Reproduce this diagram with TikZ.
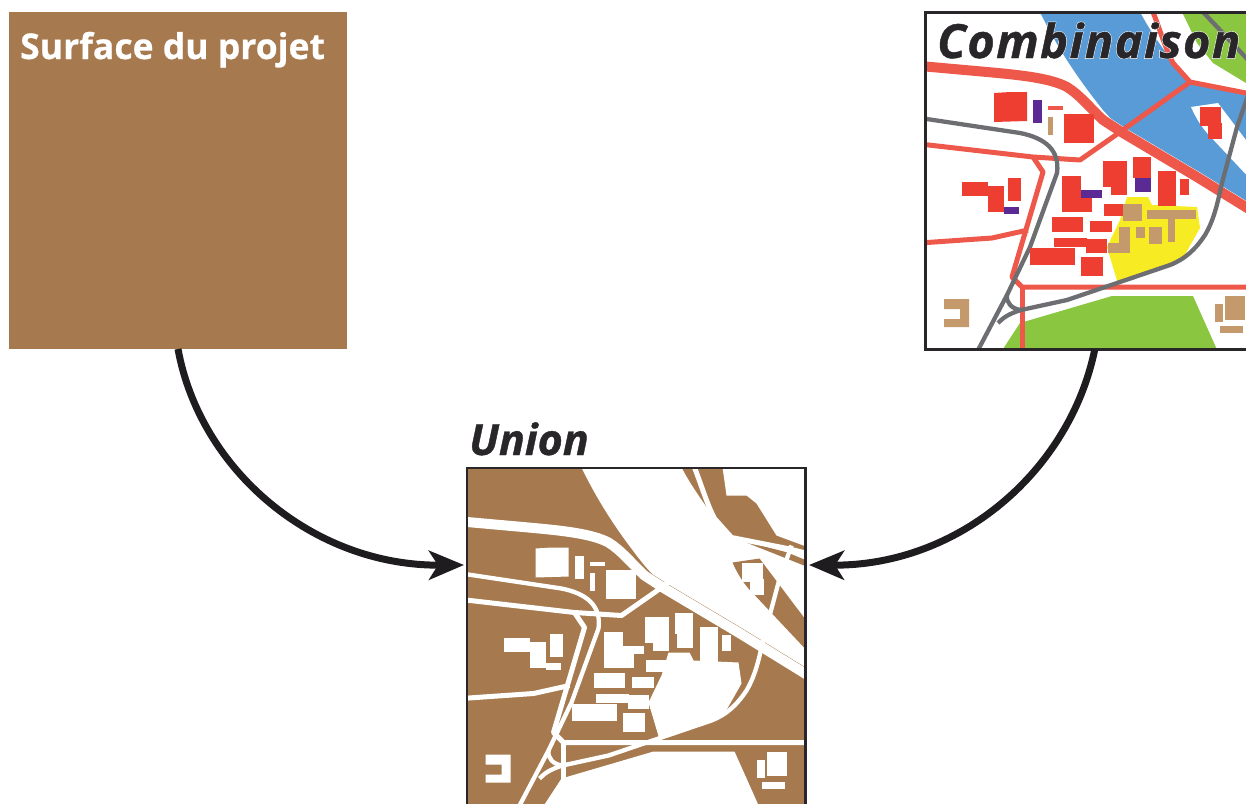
\documentclass[tikz,border=0pt]{standalone}
\usepackage{fontspec}
\setmainfont{Open Sans}
\usetikzlibrary{arrows.meta}
\definecolor{soilbrown}{RGB}{166,122,78}
\definecolor{framedark}{RGB}{40,38,40}
\definecolor{arrowblack}{RGB}{30,28,30}
\colorlet{mapbg}{white}
\newcommand{\halotext}[1]{%
  \leavevmode\rlap{\addfontfeature{FakeBold=3.2}\color{white}#1}%
  {\addfontfeature{FakeBold=0.9}\color{framedark}#1}}
\newcommand{\bldg}[5]{\fill[#1] (#2,#3) rectangle (#4,#5);}
% the map, in the pixel frame of the upper right panel; #1 = what follows the river
\newcommand{\citymap}[1]{%
  \fill[cwater] (1040,12) .. controls (1056,45) and (1075,75) .. (1103,110) -- (1123,132) -- (1197,177) -- (1270,222)
     -- (1270,97) -- (1246,93) -- (1193,82) -- (1183,77) .. controls (1170,58) and (1152,35) .. (1140,12) -- cycle;
  \fill[mapbg] (1191,107) -- (1218,103) -- (1270,172) -- (1270,200) -- (1207,133) .. controls (1200,125) and (1195,116) .. (1191,107) -- cycle;
  #1
  \fill[cgreen] (1112,296) -- (1193,296) -- (1218,352) -- (1001,352) -- (1020,323) -- cycle;
  \fill[cyellow] (1127,197) -- (1148,197) -- (1152,205) -- (1197,207) -- (1200,228) -- (1183,258) -- (1118,284) -- (1107,247) -- (1120,220) -- cycle;
  % red roads
  \draw[mapbg,line width=10.8pt] (1103,120) -- (1123,133) -- (1197,177) -- (1270,222);
  \draw[roadmain] (920,66) -- (987,72) .. controls (1020,75) and (1050,78) .. (1067,87) .. controls (1080,95) and (1090,108) .. (1103,120) -- (1123,133) -- (1197,177) -- (1270,222);
  \draw[roadsec] (1153,12) .. controls (1160,30) and (1166,50) .. (1173,63) -- (1190,82) -- (1246,93) -- (1270,99);
  \draw[roadsec] (1190,82) -- (1113,137) -- (1080,160) -- (1033,157) -- (920,144);
  \draw[roadsec] (1033,157) -- (1043,172) -- (1012,277) -- (1022,287) -- (1270,287);
  \draw[roadsec] (1022,287) -- (1022,352);
  \draw[roadsec] (1028,230) -- (992,238) -- (920,243);
  % grey roads
  \draw[roadgrey] (920,118) -- (1020,133) .. controls (1045,138) and (1060,150) .. (1057,173) -- (1030,247) -- (1007,295) -- (977,352);
  \draw[roadgrey] (1007,295) .. controls (1006,303) and (1012,309) .. (1021,310);
  \draw[roadgrey] (998,323) .. controls (1003,318) and (1008,314) .. (1021,310) -- (1067,300) -- (1117,283) -- (1170,265) .. controls (1185,259) and (1195,250) .. (1205,235) .. controls (1215,218) and (1218,200) .. (1222,183) -- (1237,127) -- (1250,90);
  \draw[roadgrey] (1203,12) -- (1250,62);
  % buildings, top left group
  \fill[cbuild] (994,93) -- (1010,92) -- (1027,92) -- (1027,121) -- (994,122) -- cycle;
  \bldg{cpurple}{1033}{100}{1042}{123}
  \bldg{croad}{1048}{106}{1063}{110}
  \bldg{ctan}{1048}{117}{1053}{135}
  \bldg{cbuild}{1064}{114}{1094}{143}
  % island
  \bldg{cbuild}{1200}{107}{1221}{126}
  \bldg{cbuild}{1208}{123}{1222}{139}
  % left group
  \bldg{cbuild}{962}{182}{988}{196}
  \bldg{cbuild}{988}{186}{1004}{212}
  \bldg{cbuild}{1008}{178}{1021}{201}
  \bldg{cpurple}{1004}{207}{1019}{214}
  % central group
  \bldg{cbuild}{1103}{161}{1127}{187}
  \bldg{cbuild}{1111}{187}{1127}{195}
  \bldg{cbuild}{1133}{157}{1151}{178}
  \bldg{cbuild}{1158}{171}{1176}{206}
  \bldg{cbuild}{1180}{179}{1189}{195}
  \bldg{cbuild}{1062}{176}{1081}{212}
  \bldg{cbuild}{1081}{198}{1092}{212}
  \bldg{cbuild}{1104}{204}{1125}{216}
  \bldg{cbuild}{1052}{217}{1083}{232}
  \bldg{cbuild}{1090}{221}{1112}{232}
  \bldg{cbuild}{1054}{238}{1087}{247}
  \bldg{cbuild}{1086}{239}{1107}{253}
  \bldg{cbuild}{1030}{248}{1075}{265}
  \bldg{cbuild}{1081}{257}{1103}{276}
  \bldg{cpurple}{1081}{190}{1102}{198}
  \bldg{cpurple}{1135}{178}{1151}{192}
  \bldg{ctan}{1123}{204}{1142}{221}
  \bldg{ctan}{1119}{227}{1130}{252}
  \bldg{ctan}{1108}{243}{1130}{253}
  \bldg{ctan}{1136}{227}{1145}{238}
  \bldg{ctan}{1149}{227}{1162}{244}
  \bldg{ctan}{1147}{210}{1196}{219}
  \bldg{ctan}{1168}{219}{1175}{242}
  % bottom groups
  \fill[ctan] (944,299) -- (969,299) -- (969,327) -- (944,327) -- (944,319) -- (960,319) -- (960,309) -- (944,309) -- cycle;
  \bldg{ctan}{1225}{296}{1245}{320}
  \bldg{ctan}{1215}{304}{1223}{322}
  \bldg{ctan}{1220}{326}{1243}{333}
}
\tikzset{
  panel/.style={draw=framedark,line width=2.5pt,minimum width=338.5pt,minimum height=337pt,inner sep=0pt,outer sep=0pt},
  soil/.style={fill=soilbrown,draw=none,minimum width=338pt,minimum height=337pt,inner sep=0pt,outer sep=0pt},
  roadmain/.style={croad,line width=10pt,line join=round},
  roadsec/.style={croad,line width=5pt,line join=round},
  roadgrey/.style={cgrey,line width=4.3pt,line join=round},
  headline/.style={inner sep=0pt,anchor=base west,text=framedark},
  curvedarrow/.style={draw=arrowblack,line width=7pt,-{Stealth[length=35pt,width=29pt,inset=9pt]}},
}
\begin{document}
\begin{tikzpicture}[x=1pt,y=-1pt]
\useasboundingbox (0,0) rectangle (1246,803);
% plain project surface
\node[soil] (surface) at (178,180.5) {};
\node[font=\fontsize{35.5}{36}\selectfont\bfseries\addfontfeature{FakeBold=0.6},text=white,inner sep=0pt,anchor=base west] (surfacetitle) at (20,59) {Surface du projet};
% combination panel
\begin{scope}
  \clip (925.5,12.5) rectangle (1264,349.5);
  \definecolor{cwater}{RGB}{88,155,214}
  \definecolor{cgreen}{RGB}{138,198,64}
  \definecolor{cyellow}{RGB}{247,236,35}
  \definecolor{cbuild}{RGB}{238,62,50}
  \definecolor{croad}{RGB}{238,88,74}
  \definecolor{cgrey}{RGB}{108,110,114}
  \definecolor{cpurple}{RGB}{92,42,148}
  \definecolor{ctan}{RGB}{196,154,108}
  \citymap{\fill[cgreen] (1182,12) -- (1197,43) -- (1213,63) -- (1246,83) -- (1270,83) -- (1270,12) -- cycle;}
\end{scope}
\node[panel] (comb) at (1094.75,181) {};
\node[headline,font=\fontsize{47}{47}\selectfont\bfseries\itshape\addfontfeature{LetterSpace=3}] (combtitle) at (937,58) {\halotext{Combinaison}};
% union panel
\begin{scope}
  \clip (467,468) rectangle (805.5,805);
  \fill[soilbrown] (467,468) rectangle (805.5,805);
  \colorlet{mapbg}{soilbrown}
  \colorlet{cwater}{white}\colorlet{cgreen}{white}\colorlet{cyellow}{white}\colorlet{cbuild}{white}
  \colorlet{croad}{white}\colorlet{cgrey}{white}\colorlet{cpurple}{white}\colorlet{ctan}{white}
  \begin{scope}[shift={(-458.5,455.5)}]
    \citymap{\fill[white] (1181,12) -- (1185,40) -- (1205,40) -- (1215,48) -- (1235,80) -- (1270,93) -- (1270,12) -- cycle;
      \fill[soilbrown] (1197,84) -- (1246,97) -- (1270,107) -- (1270,113) -- (1240,101) -- cycle;}
  \end{scope}
\end{scope}
\node[panel,minimum height=337pt] (union) at (636.25,636.5) {};
\node[headline,font=\fontsize{43}{43}\selectfont\bfseries\itshape\addfontfeature{FakeBold=0.9}] (uniontitle) at (469,455) {Union};
% connectors
\coordinate (unionleft) at (464,565);
\coordinate (unionright) at (809,565);
\draw[curvedarrow] (surface.south) .. controls (200,470) and (313,566) .. (unionleft);
\draw[curvedarrow] (comb.south) .. controls (1070,470) and (960,566) .. (unionright);
\end{tikzpicture}
\end{document}
